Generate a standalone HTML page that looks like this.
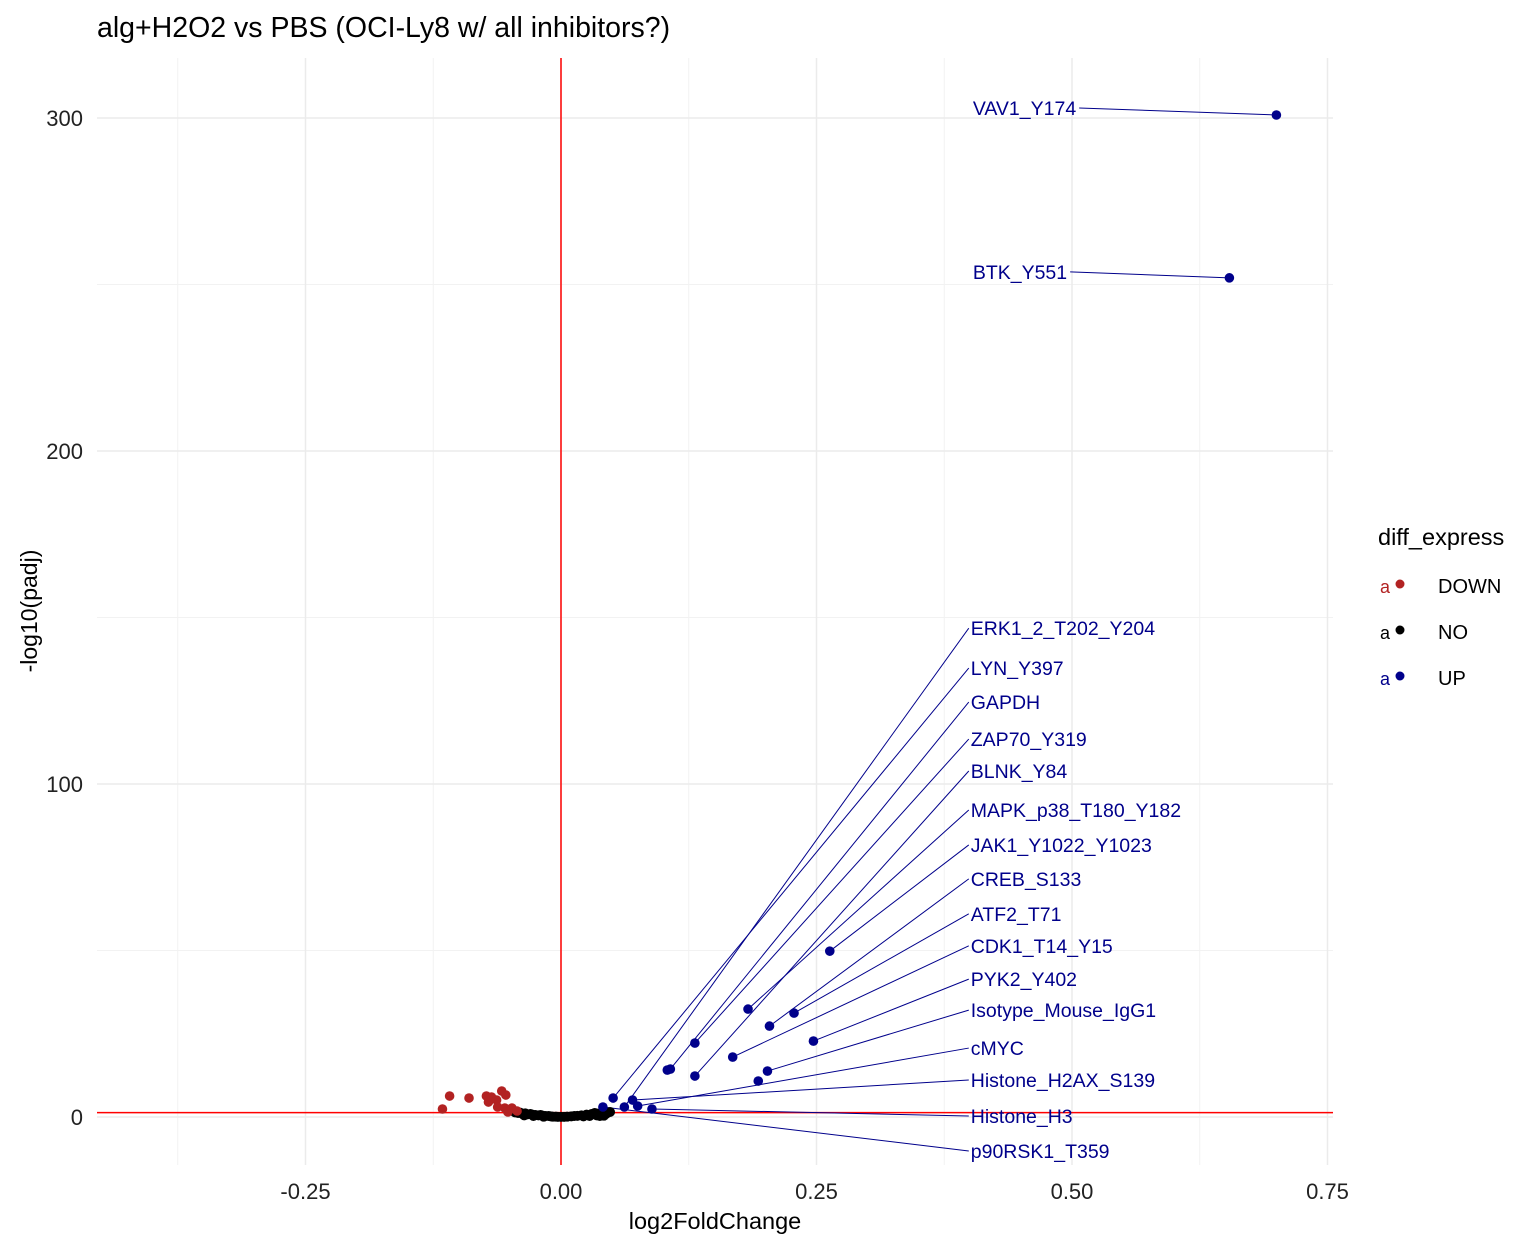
<!DOCTYPE html>
<html><head><meta charset="utf-8"><style>
body{margin:0;background:#fff}
svg text{font-family:"Liberation Sans",Arial,sans-serif}
</style></head><body>
<svg id="chart" width="1536" height="1248" xmlns="http://www.w3.org/2000/svg">
<rect width="1536" height="1248" fill="#fff"/>
<text x="97" y="37" font-size="28.5" fill="#000">alg+H2O2 vs PBS (OCI-Ly8 w/ all inhibitors?)</text>
<g id="grid"></g>
<g id="refs"></g>
<g id="seg"></g>
<g id="pts"></g>
<g id="labs"></g>
<g id="axes"></g>
<text x="715" y="1229" font-size="23.5" text-anchor="middle">log2FoldChange</text>
<text transform="translate(37,611) rotate(-90)" font-size="23" text-anchor="middle">-log10(padj)</text>
<g>
<text x="1378" y="545" font-size="23.5">diff_express</text>
<g><text x="1380" y="593" font-size="18" fill="#B22222">a</text><circle cx="1400" cy="584" r="4.5" fill="#B22222"/><text x="1438" y="593" font-size="20">DOWN</text></g>
<g><text x="1380" y="639" font-size="18" fill="#000">a</text><circle cx="1400" cy="630" r="4.5" fill="#000"/><text x="1438" y="639" font-size="20">NO</text></g>
<g><text x="1380" y="685" font-size="18" fill="#00008B">a</text><circle cx="1400" cy="676" r="4.5" fill="#00008B"/><text x="1438" y="685" font-size="20">UP</text></g>
</g>
</svg>
<script>
const xTicks=[-0.25,0,0.25,0.5,0.75];
const xTickLabels=["-0.25","0.00","0.25","0.50","0.75"];
const yTicks=[0,100,200,300];
const yTickLabels=["0","100","200","300"];
const downX=[-0.116,-0.109,-0.090,-0.073,-0.068,-0.071,-0.063,-0.058,-0.054,-0.062,-0.055,-0.048,-0.052,-0.043];
const downY=[2.4,6.3,5.7,6.3,6.0,4.5,5.1,7.8,6.6,3.0,2.7,2.7,1.5,1.8];
const noX=[-0.045,-0.042,-0.04,-0.038,-0.035,-0.033,-0.03,-0.028,-0.025,-0.022,-0.02,-0.018,-0.015,-0.012,-0.01,-0.008,-0.005,-0.003,0,0.003,0.006,0.01,0.013,0.016,0.02,0.025,0.03,0.033,0.036,0.04,0.044,0.048,0.042,0.038,-0.036,-0.027,-0.017,0.022,0.028,0.035];
const noY=[1.4,1.2,1.3,1.0,1.1,0.8,0.9,0.7,0.6,0.5,0.6,0.4,0.3,0.3,0.2,0.1,0.1,0.05,0.02,0.05,0.1,0.2,0.3,0.35,0.5,0.7,0.9,1.2,1.0,1.3,0.9,1.5,0.4,0.3,0.5,0.3,0.1,0.2,0.3,0.5];
const upNames=["VAV1_Y174","BTK_Y551","ERK1_2_T202_Y204","LYN_Y397","GAPDH","ZAP70_Y319","BLNK_Y84","MAPK_p38_T180_Y182","JAK1_Y1022_Y1023","CREB_S133","ATF2_T71","CDK1_T14_Y15","PYK2_Y402","Isotype_Mouse_IgG1","cMYC","Histone_H2AX_S139","Histone_H3","p90RSK1_T359","",""];
const upX=[0.700,0.654,0.062,0.051,0.107,0.131,0.131,0.183,0.263,0.204,0.228,0.168,0.247,0.202,0.075,0.070,0.089,0.041,0.104,0.193];
const upY=[300.9,252.0,3.0,5.7,14.4,22.2,12.3,32.4,49.8,27.3,31.2,18.0,22.8,13.8,3.3,5.1,2.4,3.0,14.1,10.8];
const labelX=[0.401,0.401,0.399,0.399,0.399,0.399,0.399,0.399,0.399,0.399,0.399,0.399,0.399,0.399,0.399,0.399,0.399,0.399];
const labelY=[303,253.8,146.8,134.8,124.6,113.5,103.9,92.2,81.7,71.5,61.0,51.4,41.4,32.1,20.7,11.1,0.3,-10.2];
const threshY=1.3;

const X=v=>561+v*1022, Y=v=>1117-v*3.33;
const NS="http://www.w3.org/2000/svg";
function mk(tag,attrs,parent,txt){const e=document.createElementNS(NS,tag);for(const k in attrs)e.setAttribute(k,attrs[k]);if(txt!==undefined)e.textContent=txt;parent.appendChild(e);return e;}
const grid=document.getElementById('grid'),axes=document.getElementById('axes');
const L=97,R=1333,T=58,B=1165;
[-0.375,-0.125,0.125,0.375,0.625].forEach(v=>{const e=mk('line',{x1:X(v),x2:X(v),y1:T,y2:B,stroke:'#f2f2f2','stroke-width':1},grid);});
[50,150,250].forEach(v=>{const e=mk('line',{x1:L,x2:R,y1:Y(v),y2:Y(v),stroke:'#f2f2f2','stroke-width':1},grid);});
xTicks.forEach((v,i)=>{const e=mk('line',{x1:X(v),x2:X(v),y1:T,y2:B,stroke:'#ebebeb','stroke-width':1.5},grid);
const t=mk('text',{x:X(v),y:1199,'font-size':22,'text-anchor':'middle',fill:'#222'},axes,xTickLabels[i]);});
yTicks.forEach((v,i)=>{const e=mk('line',{x1:L,x2:R,y1:Y(v),y2:Y(v),stroke:'#ebebeb','stroke-width':1.5},grid);
const t=mk('text',{x:83,y:Y(v)+8,'font-size':22,'text-anchor':'end',fill:'#222'},axes,yTickLabels[i]);});
const refs=document.getElementById('refs');
let r1=mk('line',{x1:X(0),x2:X(0),y1:T,y2:B,stroke:'red','stroke-width':1.5},refs);
let r2=mk('line',{x1:L,x2:R,y1:Y(threshY),y2:Y(threshY),stroke:'red','stroke-width':1.5},refs);
const pts=document.getElementById('pts'),seg=document.getElementById('seg'),labs=document.getElementById('labs');
noX.forEach((v,i)=>{const c=mk('circle',{cx:X(v),cy:Y(noY[i]),r:5,fill:'#000'},pts);});
downX.forEach((v,i)=>{const c=mk('circle',{cx:X(v),cy:Y(downY[i]),r:4.8,fill:'#B22222'},pts);});
upX.forEach((v,i)=>{const c=mk('circle',{cx:X(v),cy:Y(upY[i]),r:4.8,fill:'#00008B'},pts);
if(i<labelX.length){const lx=X(labelX[i]),ly=Y(labelY[i]);
const t=mk('text',{x:lx+2,y:ly+7,'font-size':19.5,fill:'#00008B'},labs,upNames[i]);
let sx=lx;if(i<2){sx=lx+2+t.getComputedTextLength()+3;}
const s=mk('line',{x1:sx,y1:ly,x2:X(v),y2:Y(upY[i]),stroke:'#00008B','stroke-width':1},seg);}});
</script>
</body></html>
